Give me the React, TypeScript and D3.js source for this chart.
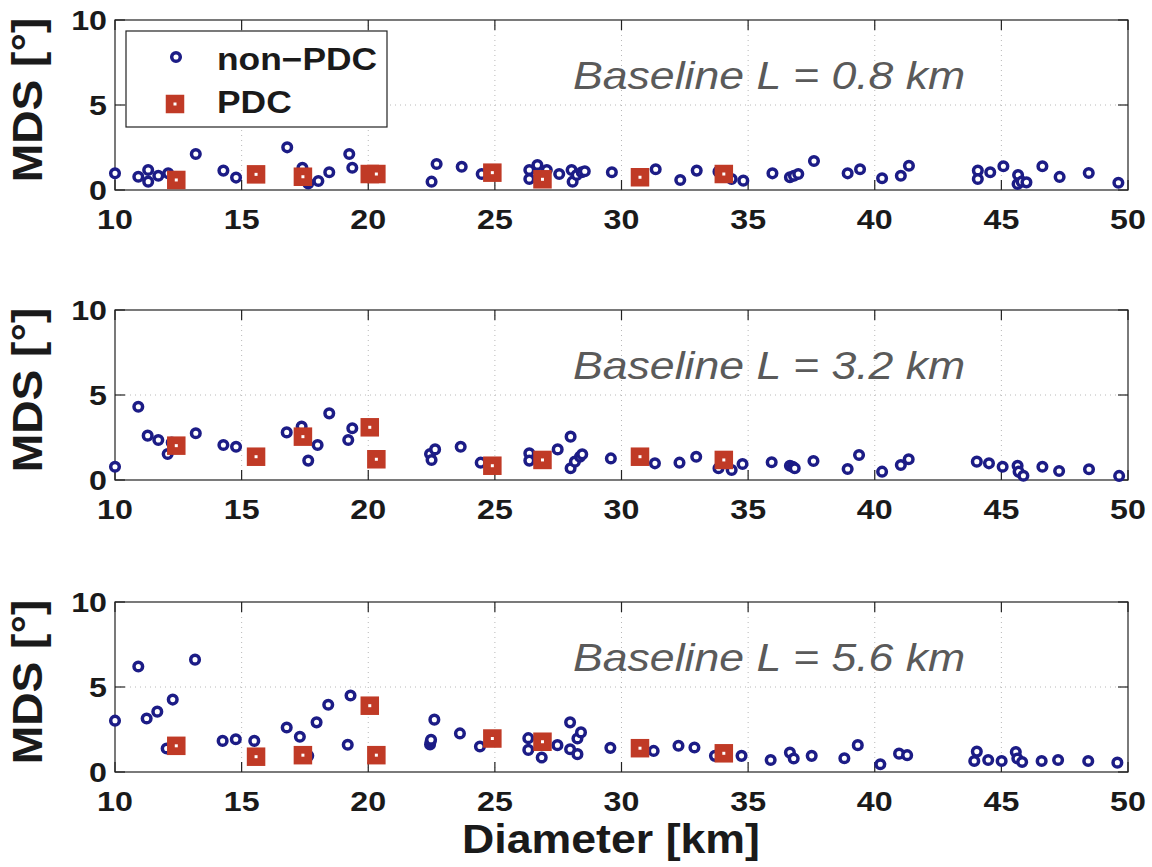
import React from "react";
import * as d3 from "d3";

// ---------- data ----------
const xTicks = [10, 15, 20, 25, 30, 35, 40, 45, 50];
const yTicks = [0, 5, 10];
const baselineLabels = ["Baseline L = 0.8 km", "Baseline L = 3.2 km", "Baseline L = 5.6 km"];
const legendLabels = ["non\u2212PDC", "PDC"];

// non-PDC craters: [diameter km, MDS deg]
const nonPdc08: [number, number][] = [
  [10.0, 0.98], [10.92, 0.78], [11.31, 1.18], [11.31, 0.49], [11.71, 0.84], [12.1, 0.98], [13.19, 2.12],
  [14.28, 1.14], [14.78, 0.73], [16.8, 2.51], [17.4, 1.31], [17.63, 0.39], [18.03, 0.53], [18.46, 1.04],
  [19.25, 2.12], [19.37, 1.31], [22.5, 0.49], [22.7, 1.53], [23.69, 1.37], [24.48, 0.94], [26.36, 1.18],
  [26.36, 0.65], [26.68, 1.47], [27.05, 1.18], [27.54, 0.94], [28.03, 1.18], [28.07, 0.49], [28.23, 0.88],
  [28.43, 1.04], [28.55, 1.1], [29.62, 1.04], [31.35, 1.22], [32.32, 0.59], [32.97, 1.14], [33.83, 1.08],
  [34.35, 0.65], [34.81, 0.55], [35.96, 0.98], [36.65, 0.75], [36.81, 0.84], [36.98, 0.94], [37.6, 1.71],
  [38.93, 0.98], [39.42, 1.22], [40.29, 0.69], [41.03, 0.84], [41.35, 1.43], [44.07, 1.14], [44.07, 0.65],
  [44.56, 1.04], [45.08, 1.4], [45.66, 0.88], [45.64, 0.35], [45.8, 0.49], [45.99, 0.45], [46.62, 1.4],
  [47.3, 0.77], [48.45, 1.0], [49.62, 0.43],
];
const nonPdc32: [number, number][] = [
  [10.0, 0.78], [10.92, 4.31], [11.29, 2.61], [11.71, 2.35], [12.08, 1.53], [12.24, 2.2], [13.19, 2.75],
  [14.28, 2.06], [14.78, 1.96], [16.78, 2.8], [17.37, 3.14], [17.63, 1.14], [18.0, 2.06], [18.46, 3.92],
  [19.21, 2.35], [19.37, 3.04], [22.44, 1.53], [22.5, 1.18], [22.64, 1.8], [23.65, 1.96], [24.44, 1.02],
  [26.36, 1.57], [26.36, 1.14], [27.48, 1.8], [27.99, 2.55], [27.99, 0.69], [28.16, 1.08], [28.36, 1.37],
  [28.45, 1.51], [29.58, 1.27], [31.32, 0.98], [32.29, 1.02], [32.95, 1.37], [33.83, 0.69], [34.35, 0.59],
  [34.78, 0.94], [35.93, 1.04], [36.65, 0.84], [36.76, 0.78], [36.84, 0.69], [37.58, 1.12], [38.93, 0.65],
  [39.38, 1.47], [40.29, 0.49], [41.03, 0.88], [41.34, 1.22], [44.03, 1.08], [44.51, 0.98], [45.05, 0.78],
  [45.64, 0.84], [45.68, 0.49], [45.87, 0.25], [46.62, 0.78], [47.28, 0.53], [48.46, 0.63], [49.65, 0.24],
];
const nonPdc56: [number, number][] = [
  [10.0, 3.02], [10.92, 6.21], [11.25, 3.15], [11.67, 3.55], [12.04, 1.38], [12.28, 4.26], [13.16, 6.61],
  [14.25, 1.83], [14.77, 1.93], [15.5, 1.83], [16.78, 2.62], [17.3, 2.07], [17.63, 0.95], [17.96, 2.92],
  [18.42, 3.96], [19.19, 1.6], [19.3, 4.5], [22.44, 1.62], [22.46, 1.78], [22.48, 1.9], [22.61, 3.08],
  [23.62, 2.27], [24.41, 1.5], [26.32, 1.99], [26.32, 1.3], [26.85, 0.85], [27.47, 1.58], [27.97, 2.92],
  [27.97, 1.34], [28.26, 1.05], [28.26, 1.97], [28.4, 2.33], [29.56, 1.42], [31.27, 1.24], [32.25, 1.54],
  [32.88, 1.44], [33.69, 0.95], [34.74, 0.95], [35.89, 0.71], [36.65, 1.14], [36.8, 0.79], [37.51, 0.95],
  [38.8, 0.81], [39.33, 1.58], [40.22, 0.46], [40.96, 1.08], [41.28, 0.99], [44.03, 1.2], [43.93, 0.65],
  [44.48, 0.71], [45.01, 0.65], [45.57, 1.18], [45.63, 0.79], [45.82, 0.59], [46.59, 0.65], [47.24, 0.71],
  [48.43, 0.65], [49.58, 0.55],
];

// PDC craters (same diameters in every panel)
const pdcDiameters = [12.42, 15.57, 17.42, 20.06, 20.32, 24.9, 26.88, 30.73, 34.04];
const pdc08 = [0.59, 0.92, 0.78, 0.94, 0.94, 1.02, 0.63, 0.75, 0.94];
const pdc32 = [2.02, 1.37, 2.55, 3.1, 1.22, 0.84, 1.18, 1.37, 1.18];
const pdc56 = [1.54, 0.9, 0.99, 3.9, 0.99, 1.97, 1.78, 1.4, 1.1];

// ---------- layout ----------
const W = 1152;
const H = 867;
const LEFT = 115;
const RIGHT = 1128;
const PANEL_TOPS = [20, 310, 602];
const PANEL_H = 170;
const NAVY = "#1c1c86";
const RED = "#c03a26";
const FONT = "'Liberation Sans', Arial, Helvetica, sans-serif";
const STRETCH = 1.15;
const TICK_FS = 28;

const panels = [
  { nonPdc: nonPdc08, pdc: pdc08, label: baselineLabels[0], legend: true },
  { nonPdc: nonPdc32, pdc: pdc32, label: baselineLabels[1], legend: false },
  { nonPdc: nonPdc56, pdc: pdc56, label: baselineLabels[2], legend: false },
];

const x = d3.scaleLinear().domain([10, 50]).range([LEFT, RIGHT]);

function Circle({ cx, cy }: { cx: number; cy: number }) {
  return <circle cx={cx} cy={cy} r={4.3} fill="white" stroke={NAVY} strokeWidth={3.5} />;
}
function Square({ cx, cy }: { cx: number; cy: number }) {
  const s = 18.5;
  return (
    <g>
      <rect x={cx - s / 2} y={cy - s / 2} width={s} height={s} fill={RED} />
      <rect x={cx - 1.5} y={cy - 1.5} width={3} height={3} fill="white" />
    </g>
  );
}

function Panel({ top, data }: { top: number; data: (typeof panels)[number] }) {
  const y = d3.scaleLinear().domain([0, 10]).range([top + PANEL_H, top]);
  const bottom = top + PANEL_H;
  const tickLen = 10;
  return (
    <g>
      {/* grid */}
      {xTicks.slice(1, -1).map((t) => (
        <line key={"gx" + t} x1={x(t)} x2={x(t)} y1={top} y2={bottom} stroke="#b8b8b8" strokeWidth={1} strokeDasharray="1,4" />
      ))}
      {yTicks.slice(1, -1).map((t) => (
        <line key={"gy" + t} x1={LEFT} x2={RIGHT} y1={y(t)} y2={y(t)} stroke="#b8b8b8" strokeWidth={1} strokeDasharray="1,4" />
      ))}
      {/* baseline label */}
      <text
        transform={`translate(${573},${top + 69}) scale(${1.13},1)`}
        fontFamily={FONT}
        fontStyle="italic"
        fontSize={39.5}
        fill="#5a5a5a"
        textAnchor="start"
      >
        {data.label}
      </text>
      {/* box */}
      <rect x={LEFT} y={top} width={RIGHT - LEFT} height={PANEL_H} fill="none" stroke="#222" strokeWidth={1.2} />
      {/* ticks */}
      {xTicks.map((t) => (
        <g key={"tx" + t}>
          <line x1={x(t)} x2={x(t)} y1={bottom} y2={bottom - tickLen} stroke="#222" strokeWidth={1.2} />
          <line x1={x(t)} x2={x(t)} y1={top} y2={top + tickLen} stroke="#222" strokeWidth={1.2} />
          <text
            transform={`translate(${x(t)},${bottom + 39}) scale(${STRETCH},1)`}
            fontFamily={FONT}
            fontWeight="bold"
            fontSize={TICK_FS}
            fill="#1a1a1a"
            textAnchor="middle"
          >
            {t}
          </text>
        </g>
      ))}
      {yTicks.map((t) => (
        <g key={"ty" + t}>
          <line x1={LEFT} x2={LEFT + tickLen} y1={y(t)} y2={y(t)} stroke="#222" strokeWidth={1.2} />
          <line x1={RIGHT} x2={RIGHT - tickLen} y1={y(t)} y2={y(t)} stroke="#222" strokeWidth={1.2} />
          <text
            transform={`translate(${LEFT - 8},${y(t) + 10}) scale(${STRETCH},1)`}
            fontFamily={FONT}
            fontWeight="bold"
            fontSize={TICK_FS}
            fill="#1a1a1a"
            textAnchor="end"
          >
            {t}
          </text>
        </g>
      ))}
      {/* y label */}
      <text
        transform={`translate(${42},${top + PANEL_H / 2 - 5}) rotate(-90) scale(1.1,1)`}
        fontFamily={FONT}
        fontWeight="bold"
        fontSize={42}
        fill="#1a1a1a"
        textAnchor="middle"
      >
        MDS [°]
      </text>
      {/* data */}
      {data.nonPdc.map(([dx, dy], i) => (
        <Circle key={"c" + i} cx={x(dx)} cy={y(dy)} />
      ))}
      {data.pdc.map((v, i) => (
        <Square key={"s" + i} cx={x(pdcDiameters[i])} cy={y(v)} />
      ))}
      {/* legend */}
      {data.legend && (
        <g>
          <rect x={126} y={31} width={261} height={96} fill="white" stroke="#222" strokeWidth={1.2} />
          <Circle cx={176} cy={57} />
          <Square cx={175} cy={104} />
          <text transform={`translate(217,70) scale(1.16,1)`} fontFamily={FONT} fontWeight="bold" fontSize={30.5} fill="#1a1a1a">
            {legendLabels[0]}
          </text>
          <text transform={`translate(217,113) scale(1.16,1)`} fontFamily={FONT} fontWeight="bold" fontSize={30.5} fill="#1a1a1a">
            {legendLabels[1]}
          </text>
        </g>
      )}
    </g>
  );
}

export default function App() {
  return (
    <svg width={W} height={H} style={{ position: "absolute", left: 0, top: 0, background: "white" }}>
      <rect x={0} y={0} width={W} height={H} fill="white" />
      {panels.map((p, i) => (
        <Panel key={i} top={PANEL_TOPS[i]} data={p} />
      ))}
      <text
        transform={`translate(${611},${853}) scale(1.09,1)`}
        fontFamily={FONT}
        fontWeight="bold"
        fontSize={41}
        fill="#1a1a1a"
        textAnchor="middle"
      >
        Diameter [km]
      </text>
    </svg>
  );
}
